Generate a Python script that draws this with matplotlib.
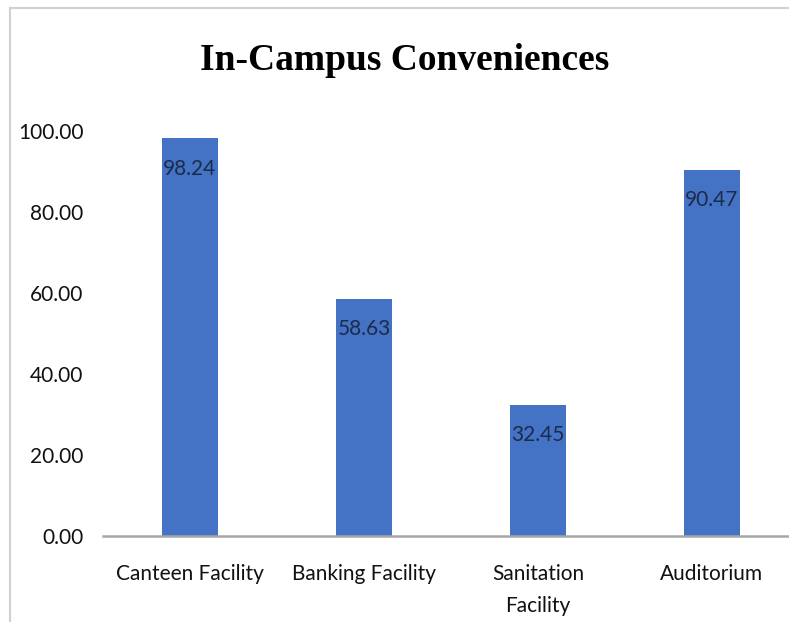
import numpy as np
import matplotlib
matplotlib.use("Agg")
import matplotlib.pyplot as plt
from matplotlib.lines import Line2D

categories = ["Canteen Facility", "Banking Facility", "Sanitation\nFacility", "Auditorium"]
values = [98.24, 58.63, 32.45, 90.47]
yticks = [0, 20, 40, 60, 80, 100]

W, H = 789, 622
fig = plt.figure(figsize=(W / 100, H / 100), dpi=100)
fig.patch.set_facecolor("white")

# axes runs a bit past the right edge, like the cropped original
ax = fig.add_axes([103 / W, 1 - 536 / H, 696 / W, (536 - 131) / H])
x = np.arange(len(categories))
bars = ax.bar(x, values, width=0.32, color="#4472C4", zorder=2)

ax.set_xlim(-0.5, 3.5)
ax.set_ylim(0, 100)
ax.set_yticks(yticks)
ax.set_yticklabels(["%.2f" % v for v in yticks])
ax.set_xticks(x)
ax.set_xticklabels(categories, linespacing=1.75)

for s in ["left", "right", "top"]:
    ax.spines[s].set_visible(False)
ax.spines["bottom"].set_color("#a6a6a6")
ax.spines["bottom"].set_linewidth(1.8)
ax.tick_params(axis="y", length=0, pad=14, labelsize=15, labelcolor="#111111")
ax.tick_params(axis="x", length=0, pad=20, labelsize=15, labelcolor="#111111")
for lab in ax.get_xticklabels() + ax.get_yticklabels():
    lab.set_family(["Lato", "DejaVu Sans"])
for lab in ax.get_xticklabels():
    lab.set_verticalalignment("top")

for b, v in zip(bars, values):
    ax.annotate("%.2f" % v, (b.get_x() + b.get_width() / 2, v),
                xytext=(0, -22), textcoords="offset points",
                ha="center", va="center", fontsize=15,
                color="#1c2b4a", family=["Lato", "DejaVu Sans"])

fig.text(405 / W, 1 - 60 / H, "In-Campus Conveniences", ha="center", va="center",
         fontsize=27, fontweight="bold", family=["Liberation Serif", "DejaVu Serif"])

# light frame lines
fig.add_artist(Line2D([10 / W, 10 / W], [0, 1 - 8 / H], color="#d0d0d0", lw=1.5,
                      transform=fig.transFigure))
fig.add_artist(Line2D([10 / W, 1], [1 - 8 / H, 1 - 8 / H], color="#d0d0d0", lw=1.5,
                      transform=fig.transFigure))

fig.savefig("out.png", dpi=100)
